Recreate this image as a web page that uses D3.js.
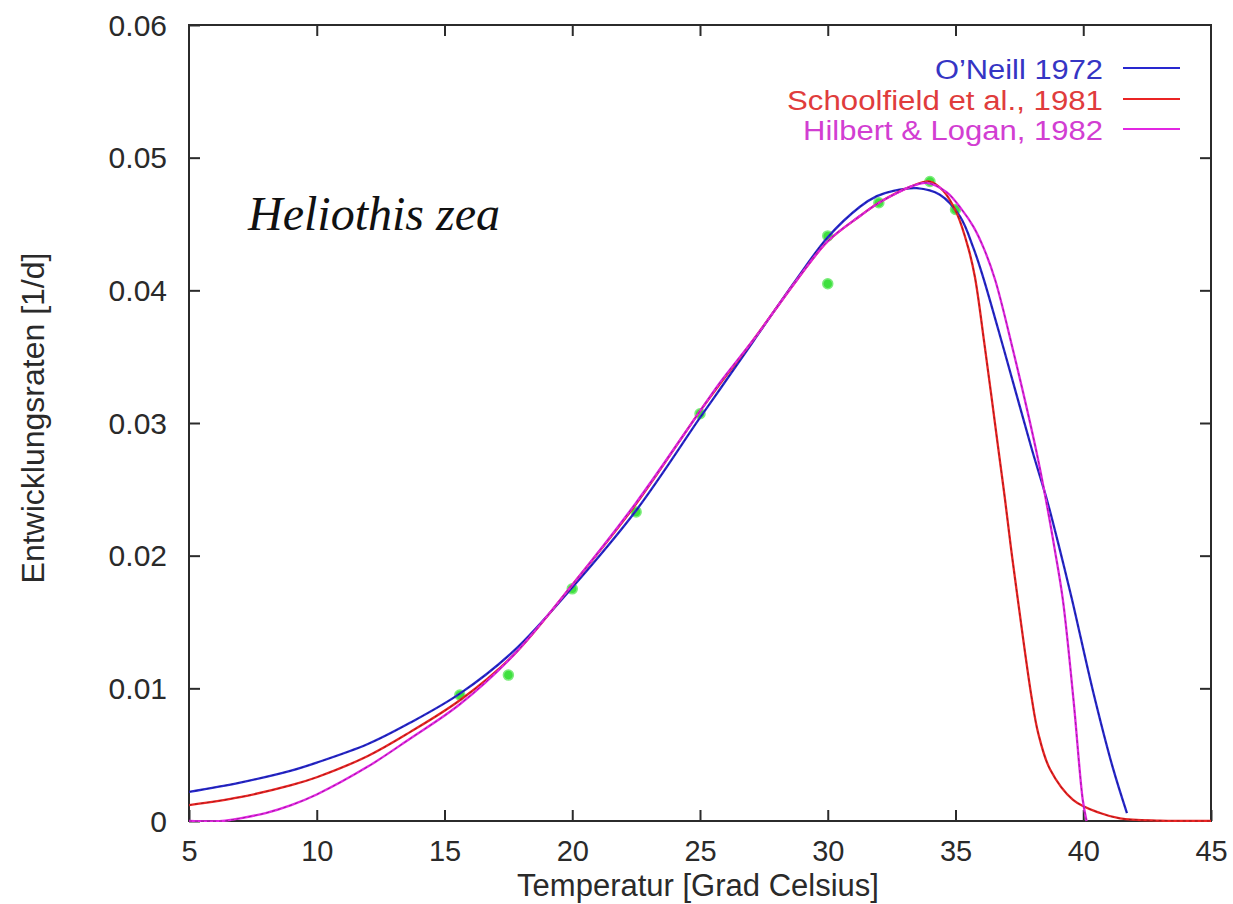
<!DOCTYPE html>
<html>
<head>
<meta charset="utf-8">
<script src="https://cdn.jsdelivr.net/npm/d3@7"></script>
<style>
  html, body { margin: 0; padding: 0; background: #fff; }
  svg { display: block; }
  text { font-family: "Liberation Sans", Arial, sans-serif; }
</style>
</head>
<body>
<svg id="chart" width="1233" height="904"></svg>
<script>
// Measured development rates (1/d) of Heliothis zea
const obsTemp = [15.6, 17.5, 20, 22.5, 25, 30, 30, 32, 34, 35];
const obsRate = [0.0095, 0.0110, 0.0175, 0.0233, 0.0307, 0.0441, 0.0405, 0.0466, 0.0482, 0.0461];

// O'Neill 1972 model curve
const oneillTemp = [5, 7, 9, 10, 12, 13.65, 15.6, 17.7, 20, 22.5, 25, 25.8, 27.1, 28.8, 30, 31.26, 31.92, 32.57, 33.48, 34.39, 35.18, 35.7, 36.08, 36.9, 37.99, 38.58, 39.09, 39.56, 40.38, 41.16, 41.71];
const oneillRate = [0.0022, 0.0029, 0.0038, 0.0044, 0.0058, 0.0074, 0.0096, 0.0128, 0.0176, 0.0234, 0.0304, 0.0326, 0.0362, 0.0409, 0.0440, 0.0463, 0.0471, 0.0475, 0.0477, 0.0472, 0.04555, 0.0432, 0.0410, 0.0355, 0.0280, 0.0242, 0.0204, 0.0167, 0.0098, 0.0040, 0.0006];

// Schoolfield et al. 1981 model curve
const schoolTemp = [5, 7, 9, 10, 12, 13.65, 15.6, 17.7, 20, 22.5, 25, 25.8, 27.1, 28.8, 30, 31.26, 32, 33.22, 34.0, 34.52, 35.05, 35.5, 35.76, 36.15, 36.68, 36.94, 37.17, 37.46, 37.98, 38.24, 38.7, 39.6, 40.66, 41.44, 43, 45];
const schoolRate = [0.0012, 0.0018, 0.0027, 0.0033, 0.0049, 0.0067, 0.0091, 0.0125, 0.0178, 0.0239, 0.0309, 0.0330, 0.0363, 0.0408, 0.0437, 0.0456, 0.0466, 0.0478, 0.0482, 0.0475, 0.0458, 0.0432, 0.0410, 0.0357, 0.0280, 0.0242, 0.0206, 0.0164, 0.0093, 0.0066, 0.0039, 0.0016, 0.0006, 0.0002, 0.00003, 0];

// Hilbert & Logan 1982 model curve
const hilbertTemp = [5, 6.3, 7, 8, 9, 10, 12, 13.65, 15.6, 17.7, 20, 22.5, 25, 25.8, 27.1, 28.8, 30, 31.26, 31.92, 32.57, 33.22, 33.87, 34.65, 35.24, 35.7, 36.1, 36.55, 37.25, 38.15, 38.54, 38.89, 39.2, 39.62, 39.98, 40.13];
const hilbertRate = [0, 0, 0.0002, 0.0006, 0.0012, 0.0020, 0.0041, 0.0062, 0.0088, 0.0125, 0.0178, 0.0240, 0.0309, 0.0331, 0.0363, 0.0408, 0.0437, 0.0456, 0.0465, 0.0472, 0.0478, 0.0481, 0.0474, 0.0461, 0.0448, 0.0432, 0.0408, 0.0355, 0.0280, 0.0242, 0.0204, 0.0167, 0.0091, 0.0016, 0];

const xTicks = [5, 10, 15, 20, 25, 30, 35, 40, 45];
const yTicks = [0, 0.01, 0.02, 0.03, 0.04, 0.05, 0.06];
const yTickLabels = ["0", "0.01", "0.02", "0.03", "0.04", "0.05", "0.06"];

const seriesNames = ["O\u2019Neill 1972", "Schoolfield et al., 1981", "Hilbert & Logan, 1982"];
const seriesLineColors = ["#2828cf", "#ea2424", "#e226e2"];
const seriesTextColors = ["#3535c4", "#e03c3c", "#d23ed2"];

const series = [
  { t: oneillTemp, r: oneillRate },
  { t: schoolTemp, r: schoolRate },
  { t: hilbertTemp, r: hilbertRate }
];

const svg = d3.select("#chart");
const plot = { left: 189, top: 25, right: 1211, bottom: 821 };

const x = d3.scaleLinear().domain([5, 45]).range([plot.left, plot.right]);
const y = d3.scaleLinear().domain([0, 0.06]).range([plot.bottom, plot.top]);

svg.append("defs").append("clipPath").attr("id", "plotClip")
  .append("rect")
  .attr("x", plot.left).attr("y", plot.top - 2)
  .attr("width", plot.right - plot.left).attr("height", plot.bottom - plot.top + 3);

// Axes with inward ticks on all four sides
const tickLen = 11;
const axisColor = "#2b2b2b";

const bottomAxis = svg.append("g")
  .attr("transform", `translate(0,${plot.bottom})`)
  .call(d3.axisBottom(x).tickValues(xTicks).tickSizeInner(-tickLen).tickSizeOuter(0));
const topAxis = svg.append("g")
  .attr("transform", `translate(0,${plot.top})`)
  .call(d3.axisTop(x).tickValues(xTicks.slice(1, -1)).tickSizeInner(-tickLen).tickSizeOuter(0).tickFormat(""));
const leftAxis = svg.append("g")
  .attr("transform", `translate(${plot.left},0)`)
  .call(d3.axisLeft(y).tickValues(yTicks).tickSizeInner(-tickLen).tickSizeOuter(0)
    .tickPadding(tickLen + 11).tickFormat((d, i) => yTickLabels[i]));
const rightAxis = svg.append("g")
  .attr("transform", `translate(${plot.right},0)`)
  .call(d3.axisRight(y).tickValues(yTicks.slice(1, -1)).tickSizeInner(-tickLen).tickSizeOuter(0).tickFormat(""));

[bottomAxis, topAxis, leftAxis, rightAxis].forEach(g => {
  g.select(".domain").remove();
  g.selectAll(".tick line").attr("stroke", axisColor).attr("stroke-width", 2);
  g.selectAll(".tick text").attr("fill", "#2a2a2a").style("font-family", "'Liberation Sans', Arial, sans-serif");
});
bottomAxis.selectAll(".tick text").attr("font-size", 29).attr("dy", "0").attr("y", 40);
leftAxis.selectAll(".tick text").attr("font-size", 30).attr("dy", "0.34em");

// Plot frame
svg.append("rect")
  .attr("x", plot.left).attr("y", plot.top)
  .attr("width", plot.right - plot.left).attr("height", plot.bottom - plot.top)
  .attr("fill", "none").attr("stroke", axisColor).attr("stroke-width", 2);

// Axis titles
svg.append("text")
  .attr("x", 698).attr("y", 896)
  .attr("text-anchor", "middle").attr("font-size", 31).attr("fill", "#2a2a2a")
  .text("Temperatur [Grad Celsius]");
svg.append("text")
  .attr("transform", "translate(44,418) rotate(-90)")
  .attr("text-anchor", "middle").attr("font-size", 32).attr("fill", "#2a2a2a")
  .text("Entwicklungsraten [1/d]");

// Species label
svg.append("text")
  .attr("x", 248).attr("y", 230)
  .style("font-family", "'Liberation Serif', 'Times New Roman', serif")
  .attr("font-style", "italic").attr("font-size", 48).attr("fill", "#111")
  .text("Heliothis zea");

// Observations
svg.append("g").selectAll("circle").data(obsTemp).join("circle")
  .attr("cx", (d) => x(d))
  .attr("cy", (d, i) => y(obsRate[i]))
  .attr("r", 5)
  .attr("fill", "#3fe03f")
  .attr("stroke", "#7cec7c").attr("stroke-width", 1.5);

// Model curves
const line = d3.line()
  .x(d => x(d[0]))
  .y(d => y(d[1]))
  .curve(d3.curveCatmullRom.alpha(0.5));

const gCurves = svg.append("g").attr("clip-path", "url(#plotClip)");
series.forEach((s, i) => {
  const pts = s.t.map((t, k) => [t, s.r[k]]);
  gCurves.append("path")
    .attr("d", line(pts))
    .attr("fill", "none")
    .attr("stroke", seriesLineColors[i])
    .attr("stroke-width", 2.3)
    .attr("stroke-linejoin", "round");
  gCurves.append("path")
    .attr("d", line(pts))
    .attr("fill", "none")
    .attr("stroke", "#000")
    .attr("stroke-opacity", 0.35)
    .attr("stroke-width", 0.9)
    .attr("stroke-dasharray", "3,3");
});

// Legend: right-aligned entries with a line sample to their right
const legendRows = [79, 110, 140];
const legendWidths = [168, 316, 300];
const legend = svg.append("g");
seriesNames.forEach((name, i) => {
  legend.append("text")
    .attr("x", 1103).attr("y", legendRows[i])
    .attr("text-anchor", "end").attr("font-size", 27)
    .attr("textLength", legendWidths[i]).attr("lengthAdjust", "spacingAndGlyphs")
    .attr("fill", seriesTextColors[i])
    .text(name);
  legend.append("line")
    .attr("x1", 1123).attr("x2", 1180)
    .attr("y1", legendRows[i] - 11).attr("y2", legendRows[i] - 11)
    .attr("stroke", seriesLineColors[i]).attr("stroke-width", 2);
});
</script>
</body>
</html>
